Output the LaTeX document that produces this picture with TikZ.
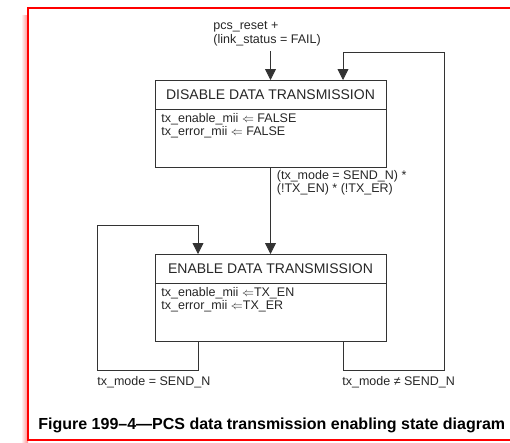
\documentclass[tikz,border=0pt]{standalone}
\usepackage{fontspec}
\setmainfont{Liberation Sans}
\usetikzlibrary{arrows.meta, positioning}

\newcommand{\lblfont}{\fontsize{12.5}{13.2}\selectfont}

\begin{document}
\begin{tikzpicture}[x=1pt, y=-1pt, line width=0.8pt,
        >={Triangle[length=11pt, width=11pt]},
        statetitle/.style={draw=black!80, minimum width=231pt, minimum height=29pt,
            inner sep=0pt, outer sep=0pt, text=black!85, font=\fontsize{14}{16}\selectfont},
        statebody/.style={draw=black!80, minimum width=231pt, minimum height=58pt,
            inner sep=0pt, outer sep=0pt},
        action/.style={inner sep=0pt, align=left, text=black!85, font=\lblfont},
        cond/.style={inner sep=0pt, align=left, text=black!85, font=\lblfont},
        wire/.style={draw=black!80}]

    \useasboundingbox (0,0) rectangle (510,442);
    \clip (0,0) rectangle (510,442);

    % red frame with its soft edge on the left
    \shade[left color=white, right color=red!45] (21,15) rectangle (28,442);
    \draw[red, line width=2.2pt] (530,8) -| (28,440) -- (530,440);

    % states
    \node[statetitle] (dis) at (270.5,94.5) {DISABLE DATA TRANSMISSION};
    \node[statebody, below=0pt of dis] (disb) {};
    \node[action, below right=4pt and 6pt of disb.north west] (disa)
        {tx\_enable\_mii $\Leftarrow$ FALSE\\tx\_error\_mii $\Leftarrow$ FALSE};

    \node[statetitle] (en) at (270.5,268.5) {ENABLE DATA TRANSMISSION};
    \node[statebody, below=0pt of en] (enb) {};
    \node[action, below right=4pt and 6pt of enb.north west] (ena)
        {tx\_enable\_mii $\Leftarrow$TX\_EN\\tx\_error\_mii $\Leftarrow$TX\_ER};

    % loop corners
    \coordinate (rst) at (270.5,51);
    \coordinate (lloop) at (97,225);
    \coordinate (lbot) at (97,370);
    \coordinate (rloop) at (444,370);
    \coordinate (rtop) at (444,52);

    % transitions
    \draw[wire, ->] (rst) -- (dis.north);
    \draw[wire, ->] (disb.south) -- (en.north);
    \draw[wire, ->] ([xshift=-72.5pt]enb.south) |- (lbot) |- (lloop)
        -| ([xshift=-72.5pt]en.north);
    \draw[wire, ->] ([xshift=72.5pt]enb.south) |- (rloop) -- (rtop)
        -| ([xshift=72.5pt]dis.north);

    % conditions
    \node[cond, above right=5pt and -57.5pt of rst] (rstc)
        {pcs\_reset +\\(link\_status = FAIL)};
    \node[cond, below right=3pt and 6pt of disb.south] (txc)
        {(tx\_mode = SEND\_N) *\\(!TX\_EN) * (!TX\_ER)};
    \node[cond, below right=6pt and 0pt of lbot] (eqc) {tx\_mode = SEND\_N};
    \node[cond, below right=6pt and -102pt of rloop] (neqc) {tx\_mode ≠ SEND\_N};

    \node[anchor=west, inner sep=0pt, font=\bfseries\fontsize{16}{18}\selectfont] (cap)
        at (38,425) {Figure 199–4—PCS data transmission enabling state diagram};
\end{tikzpicture}
\end{document}
